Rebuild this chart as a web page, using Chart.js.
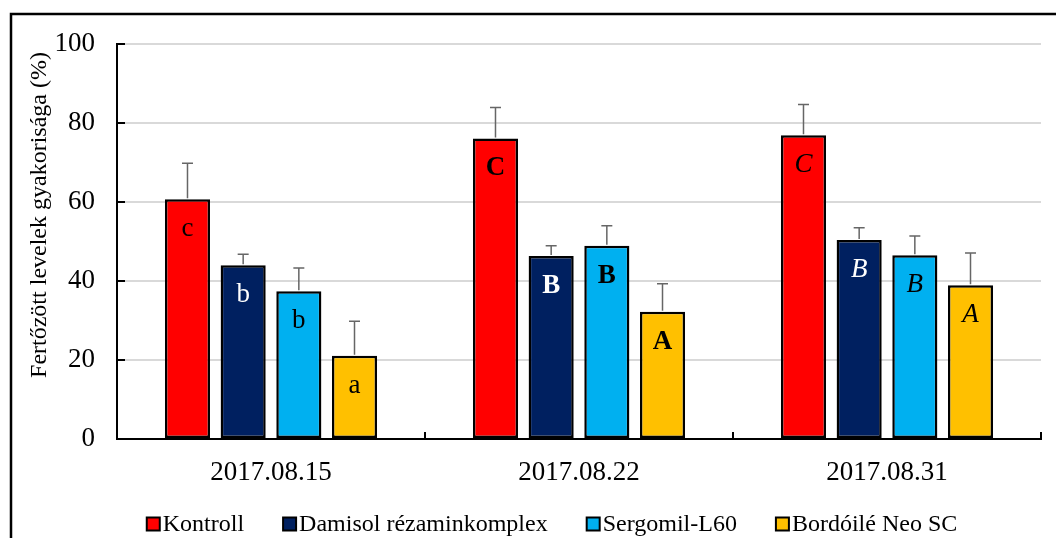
<!DOCTYPE html>
<html lang="hu">
<head>
<meta charset="UTF-8">
<title>Fertőzött levelek gyakorisága</title>
<style>
  html, body { margin: 0; padding: 0; background: #fff; }
  #wrap { width: 1056px; height: 538px; position: relative; }
</style>
</head>
<body>
<div id="wrap"><canvas id="myChart" width="1056" height="538"></canvas></div>
<script src="https://cdn.jsdelivr.net/npm/chart.js"></script>
<script>
// adatok
const dates = ['2017.08.15', '2017.08.22', '2017.08.31'];
const seriesNames = ['Kontroll', 'Damisol rézaminkomplex', 'Sergomil-L60', 'Bordóilé Neo SC'];
const kontroll = [60.7, 76.1, 76.9];
const damisol = [44.0, 46.3, 50.4];
const sergomil = [37.4, 48.9, 46.5];
const bordoile = [21.1, 32.2, 38.9];
// szórás (csak felfelé)
const kontrollErr = [9.1, 7.8, 7.8];
const damisolErr = [2.8, 2.6, 3.1];
const sergomilErr = [5.9, 5.1, 4.9];
const bordoileErr = [8.7, 7.1, 8.2];
// betűjelek
const kontrollLetters = ['c', 'C', 'C'];
const damisolLetters = ['b', 'B', 'B'];
const sergomilLetters = ['b', 'B', 'B'];
const bordoileLetters = ['a', 'A', 'A'];
const letterStyles = ['normal', 'bold', 'italic'];
const yTicks = [0, 20, 40, 60, 80, 100];

const colors = ['#FF0000', '#002060', '#00B0F0', '#FFC000'];
const letterColors = ['#000', '#fff', '#000', '#000'];
const serif = "'Liberation Serif', 'Times New Roman', serif";
Chart.defaults.font.family = serif;
Chart.defaults.color = '#000';

const values = [kontroll, damisol, sergomil, bordoile];
const errs = [kontrollErr, damisolErr, sergomilErr, bordoileErr];
const letters = [kontrollLetters, damisolLetters, sergomilLetters, bordoileLetters];

const datasets = seriesNames.map((name, i) => ({
  label: name,
  data: values[i],
  backgroundColor: colors[i],
  borderColor: '#000',
  borderWidth: 2.5,
  borderSkipped: false,
  categoryPercentage: 0.723,
  barPercentage: 0.81
}));

// keret, hibasávok, betűk, tengelyjelek, felirat, jelmagyarázat
const extras = {
  id: 'extras',
  afterDatasetsDraw(chart) {
    const ctx = chart.ctx;
    const y = chart.scales.y;
    const x = chart.scales.x;
    const area = chart.chartArea;
    ctx.save();
    // hibasávok
    ctx.strokeStyle = '#666';
    ctx.lineWidth = 1.5;
    chart.data.datasets.forEach((ds, i) => {
      chart.getDatasetMeta(i).data.forEach((bar, j) => {
        const top = y.getPixelForValue(ds.data[j] + errs[i][j]);
        ctx.beginPath();
        ctx.moveTo(bar.x, bar.y - 1);
        ctx.lineTo(bar.x, top);
        ctx.moveTo(bar.x - 5.5, top);
        ctx.lineTo(bar.x + 5.5, top);
        ctx.stroke();
      });
    });
    // betűjelek
    ctx.textAlign = 'center';
    ctx.textBaseline = 'middle';
    chart.data.datasets.forEach((ds, i) => {
      chart.getDatasetMeta(i).data.forEach((bar, j) => {
        const st = letterStyles[j];
        ctx.font = (st === 'bold' ? 'bold ' : st === 'italic' ? 'italic ' : '') + '27px ' + serif;
        ctx.fillStyle = letterColors[i];
        ctx.fillText(letters[i][j], bar.x, bar.y + 30);
      });
    });
    // y tengely jelek befelé
    ctx.strokeStyle = '#000';
    ctx.lineWidth = 2;
    yTicks.forEach(v => {
      const py = y.getPixelForValue(v);
      ctx.beginPath();
      ctx.moveTo(area.left, py);
      ctx.lineTo(area.left + 8, py);
      ctx.stroke();
    });
    // x tengely jelek a kategóriahatárokon
    for (let i = 0; i < dates.length; i++) {
      const px = i < dates.length - 1
        ? (x.getPixelForTick(i) + x.getPixelForTick(i + 1)) / 2
        : area.right;
      ctx.beginPath();
      ctx.moveTo(px, area.bottom);
      ctx.lineTo(px, area.bottom - 7);
      ctx.stroke();
    }
    ctx.restore();
  },
  afterDraw(chart) {
    const ctx = chart.ctx;
    ctx.save();
    // külső keret
    ctx.strokeStyle = '#000';
    ctx.lineWidth = 2.5;
    ctx.beginPath();
    ctx.moveTo(11, 540);
    ctx.lineTo(11, 14);
    ctx.lineTo(1060, 14);
    ctx.stroke();
    // y tengely felirat
    ctx.translate(40, 215);
    ctx.rotate(-Math.PI / 2);
    ctx.font = '24px ' + serif;
    ctx.fillStyle = '#000';
    ctx.textAlign = 'center';
    ctx.textBaseline = 'middle';
    ctx.fillText('Fertőzött levelek gyakorisága (%)', 0, 0);
    ctx.restore();
    // jelmagyarázat
    ctx.save();
    ctx.font = '24px ' + serif;
    ctx.textBaseline = 'middle';
    const box = 13, gapText = 3, gapItem = 39;
    const widths = seriesNames.map(n => box + gapText + ctx.measureText(n).width);
    const total = widths.reduce((a, b) => a + b, 0) + gapItem * (seriesNames.length - 1);
    let lx = 552 - total / 2;
    const ly = 524;
    seriesNames.forEach((n, i) => {
      ctx.fillStyle = colors[i];
      ctx.fillRect(lx, ly - box / 2, box, box);
      ctx.strokeStyle = '#000';
      ctx.lineWidth = 2;
      ctx.strokeRect(lx, ly - box / 2, box, box);
      ctx.fillStyle = '#000';
      ctx.fillText(n, lx + box + gapText, ly + 1);
      lx += widths[i] + gapItem;
    });
    ctx.restore();
  }
};

new Chart(document.getElementById('myChart'), {
  type: 'bar',
  data: { labels: dates, datasets: datasets },
  options: {
    responsive: false,
    animation: false,
    layout: { padding: { top: 44, right: 15, left: 0, bottom: 0 } },
    plugins: {
      legend: { display: false },
      tooltip: { enabled: false }
    },
    scales: {
      x: {
        grid: { display: false },
        border: { color: '#000', width: 2 },
        ticks: { font: { size: 27 }, padding: 10, color: '#000' },
        afterFit(s) { s.height = 99; }
      },
      y: {
        min: 0,
        max: 100,
        ticks: { stepSize: 20, font: { size: 27 }, padding: 22, color: '#000' },
        grid: { color: '#d9d9d9', lineWidth: 2, drawTicks: false },
        border: { color: '#000', width: 2 },
        afterFit(s) { s.width = 117; }
      }
    }
  },
  plugins: [extras]
});
</script>
</body>
</html>
